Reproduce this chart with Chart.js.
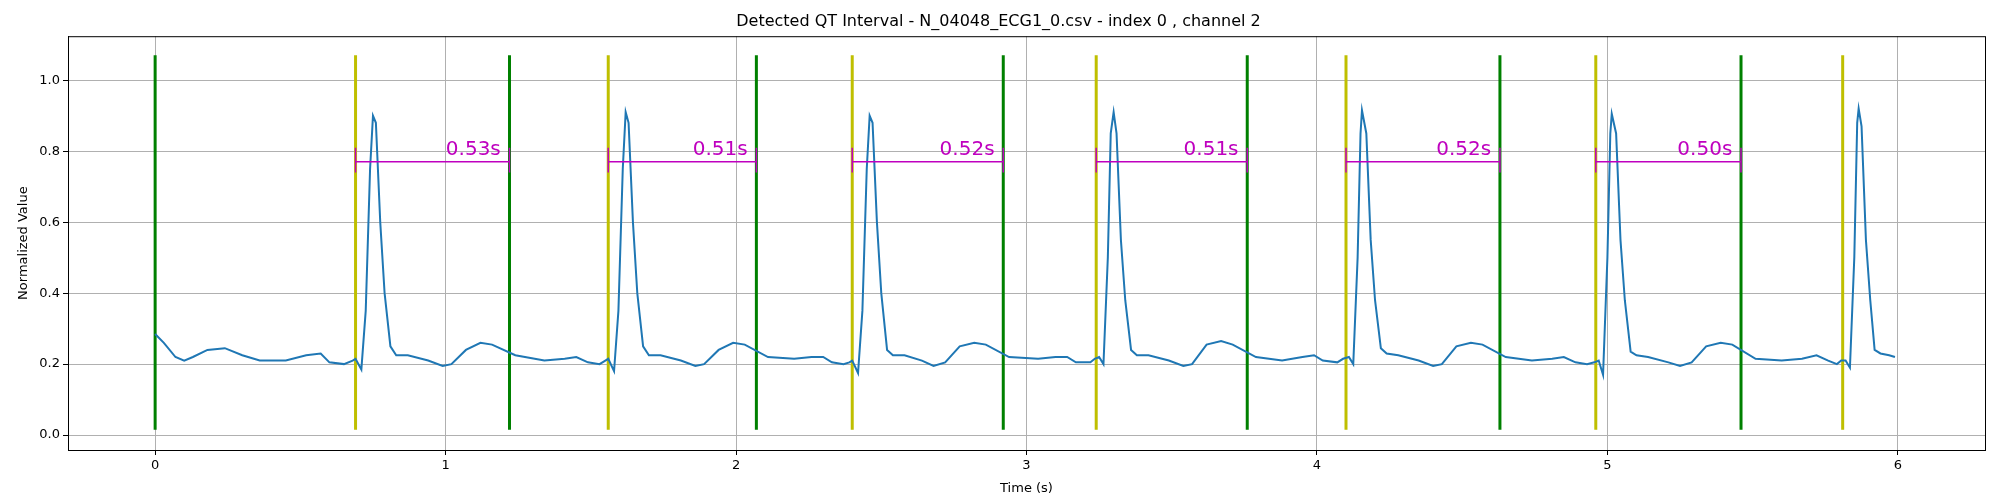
<!DOCTYPE html>
<html>
<head>
<meta charset="UTF-8" />
<title>Detected QT Interval</title>
<script src="https://cdn.jsdelivr.net/npm/chart.js"></script>
<style>
  body { margin: 0; background: #fff; }
  canvas { display: block; }
</style>
</head>
<body>
<canvas id="qt" width="2000" height="500"></canvas>
<script>
// ECG trace (time s, normalized value)
const ecgT = [0,0.03,0.07,0.1,0.13,0.18,0.24,0.3,0.36,0.45,0.52,0.57,0.6,0.65,0.68,
  0.69,0.71,0.725,0.74,0.75,0.76,0.775,0.79,0.81,0.83,0.87,0.94,0.99,1.02,1.07,1.12,1.16,1.24,1.34,1.41,1.45,1.49,1.53,1.55,
  1.56,1.58,1.595,1.61,1.62,1.63,1.645,1.66,1.68,1.70,1.74,1.81,1.86,1.89,1.94,1.99,2.03,2.11,2.2,2.26,2.30,2.33,2.37,2.39,
  2.40,2.42,2.435,2.45,2.46,2.47,2.485,2.50,2.52,2.54,2.58,2.64,2.68,2.72,2.77,2.82,2.86,2.94,3.04,3.10,3.14,3.17,3.22,3.235,
  3.25,3.265,3.28,3.29,3.30,3.31,3.325,3.34,3.36,3.38,3.42,3.49,3.54,3.57,3.62,3.67,3.71,3.79,3.88,3.95,3.99,4.02,4.07,4.09,
  4.11,4.125,4.14,4.15,4.155,4.17,4.185,4.20,4.22,4.24,4.28,4.35,4.40,4.43,4.48,4.53,4.57,4.65,4.74,4.81,4.85,4.89,4.93,4.955,
  4.97,4.985,5.0,5.01,5.015,5.03,5.045,5.06,5.08,5.10,5.14,5.21,5.25,5.29,5.34,5.39,5.43,5.51,5.60,5.67,5.72,5.76,5.79,5.805,
  5.82,5.835,5.85,5.86,5.865,5.875,5.89,5.905,5.92,5.94,5.97,5.99];
const ecgV = [0.285,0.26,0.22,0.21,0.22,0.24,0.245,0.225,0.21,0.21,0.225,0.23,0.205,0.2,0.21,
  0.215,0.185,0.35,0.75,0.90,0.88,0.6,0.4,0.25,0.225,0.225,0.21,0.195,0.2,0.24,0.26,0.255,0.225,0.21,0.215,0.22,0.205,0.2,0.21,
  0.215,0.18,0.35,0.75,0.91,0.88,0.6,0.4,0.25,0.225,0.225,0.21,0.195,0.2,0.24,0.26,0.255,0.22,0.215,0.22,0.22,0.205,0.2,0.205,
  0.21,0.175,0.35,0.75,0.90,0.88,0.6,0.4,0.24,0.225,0.225,0.21,0.195,0.205,0.25,0.26,0.255,0.22,0.215,0.22,0.22,0.205,0.205,0.215,
  0.22,0.2,0.5,0.85,0.91,0.85,0.55,0.38,0.24,0.225,0.225,0.21,0.195,0.2,0.255,0.265,0.255,0.22,0.21,0.22,0.225,0.21,0.205,0.215,
  0.22,0.2,0.5,0.85,0.915,0.85,0.55,0.38,0.245,0.23,0.225,0.21,0.195,0.2,0.25,0.26,0.255,0.22,0.21,0.215,0.22,0.205,0.2,0.205,
  0.21,0.17,0.5,0.85,0.905,0.85,0.55,0.38,0.235,0.225,0.22,0.205,0.195,0.205,0.25,0.26,0.255,0.215,0.21,0.215,0.225,0.21,0.2,0.21,
  0.21,0.19,0.5,0.88,0.92,0.87,0.55,0.38,0.24,0.23,0.225,0.22];

// detected markers
const qOnsets = [0.69, 1.56, 2.40, 3.24, 4.10, 4.96, 5.81];   // yellow
const tEnds   = [0.00, 1.22, 2.07, 2.92, 3.76, 4.63, 5.46];   // green
const qtLabels = ["0.53s", "0.51s", "0.52s", "0.51s", "0.52s", "0.50s"];
const xTicks = [0, 1, 2, 3, 4, 5, 6];
const yTicks = [0.0, 0.2, 0.4, 0.6, 0.8, 1.0];

const lineBottom = 0.015, lineTop = 1.07;
const qtLevel = 0.77, capLow = 0.74, capHigh = 0.81;

function vlines(xs) {
  const pts = [];
  xs.forEach(x => { pts.push({x: x, y: lineBottom}, {x: x, y: lineTop}, {x: x, y: NaN}); });
  return pts;
}

// QT brackets: from each yellow onset to the next green end
const qtPairs = [];
for (let i = 0; i < qtLabels.length; i++) qtPairs.push([qOnsets[i], tEnds[i + 1], qtLabels[i]]);
const bracketPts = [];
qtPairs.forEach(([a, b]) => {
  bracketPts.push({x: a, y: qtLevel}, {x: b, y: qtLevel}, {x: b, y: NaN});
  bracketPts.push({x: a, y: capLow}, {x: a, y: capHigh}, {x: a, y: NaN});
  bracketPts.push({x: b, y: capLow}, {x: b, y: capHigh}, {x: b, y: NaN});
});

const frame = {
  id: 'frame',
  afterDraw(chart) {
    const {ctx, chartArea: a, scales} = chart;
    ctx.save();
    ctx.strokeStyle = '#000';
    ctx.lineWidth = 1;
    ctx.strokeRect(a.left + 0.5, a.top + 0.5, a.right - a.left, a.bottom - a.top);
    ctx.fillStyle = '#bf00bf';
    ctx.font = '20px "DejaVu Sans"';
    ctx.textAlign = 'right';
    ctx.textBaseline = 'alphabetic';
    qtPairs.forEach(([a1, b, t]) => {
      ctx.fillText(t, scales.x.getPixelForValue(b - 0.03), scales.y.getPixelForValue(0.79));
    });
    ctx.restore();
  }
};

const tickFont = {family: 'DejaVu Sans', size: 13};
new Chart(document.getElementById('qt'), {
  type: 'line',
  data: {
    datasets: [
      {data: vlines(tEnds), borderColor: '#008000', borderWidth: 3, pointRadius: 0, spanGaps: false, order: 3},
      {data: vlines(qOnsets), borderColor: '#bfbf00', borderWidth: 3, pointRadius: 0, spanGaps: false, order: 2},
      {data: bracketPts, borderColor: '#bf00bf', borderWidth: 1.5, pointRadius: 0, spanGaps: false, order: 0},
      {data: ecgT.map((t, i) => ({x: t, y: ecgV[i]})), borderColor: '#1f77b4', borderWidth: 2, pointRadius: 0, tension: 0, order: 1}
    ]
  },
  options: {
    responsive: false,
    animation: false,
    layout: {padding: {left: 12, right: 15, top: 0, bottom: 0}},
    plugins: {
      legend: {display: false},
      tooltip: {enabled: false},
      title: {
        display: true,
        text: 'Detected QT Interval - N_04048_ECG1_0.csv - index 0 , channel 2',
        color: '#000',
        font: {family: 'DejaVu Sans', size: 16, weight: 'normal'},
        padding: {top: 12, bottom: 5}
      }
    },
    scales: {
      x: {
        type: 'linear', min: -0.3, max: 6.3,
        afterBuildTicks: s => { s.ticks = xTicks.map(v => ({value: v})); },
        afterFit: s => { s.height = 50; },
        ticks: {color: '#000', font: tickFont, callback: v => v},
        grid: {color: '#b0b0b0', tickColor: '#000', tickLength: 5},
        border: {color: '#000'},
        title: {display: true, text: 'Time (s)', color: '#000', font: tickFont, padding: {top: 0}}
      },
      y: {
        min: -0.042, max: 1.124,
        afterBuildTicks: s => { s.ticks = yTicks.map(v => ({value: v})); },
        afterFit: s => { s.width = 56; },
        ticks: {color: '#000', font: tickFont, callback: v => v.toFixed(1)},
        grid: {color: '#b0b0b0', tickColor: '#000', tickLength: 5},
        border: {color: '#000'},
        title: {display: true, text: 'Normalized Value', color: '#000', font: tickFont, padding: {bottom: 4}}
      }
    }
  },
  plugins: [frame]
});
</script>
</body>
</html>
